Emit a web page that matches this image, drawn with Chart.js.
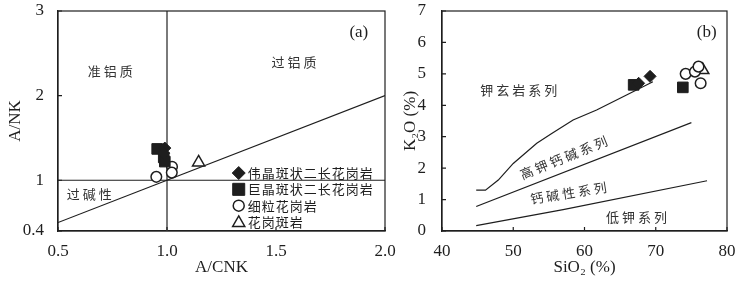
<!DOCTYPE html>
<html><head><meta charset="utf-8">
<script src="https://cdn.jsdelivr.net/npm/chart.js@4/dist/chart.umd.min.js"></script>
<style>
html,body{margin:0;padding:0;background:#fff;width:750px;height:281px;overflow:hidden}
#ca{position:absolute;left:0;top:0}
#cb{position:absolute;left:380px;top:0}
</style></head><body>
<canvas id="ca" width="400" height="281"></canvas>
<canvas id="cb" width="370" height="281"></canvas>
<script>
// ---------- data ----------
const seriesNames = ['伟晶斑状二长花岗岩','巨晶斑状二长花岗岩','细粒花岗岩','花岗斑岩'];

// panel (a): A/CNK vs A/NK
const aXTicks = [0.5, 1.0, 1.5, 2.0];
const aYTicks = [0.4, 1, 2, 3];
const aDiamond = [{x:0.99,y:1.38},{x:0.985,y:1.32}];
const aSquare = [{x:0.955,y:1.37},{x:0.985,y:1.27},{x:0.99,y:1.22}];
const aCircle = [{x:0.951,y:1.04},{x:1.023,y:1.16},{x:1.022,y:1.09}];
const aTriangle = [{x:1.145,y:1.21}];
const aLineV = [{x:1.0,y:0.4},{x:1.0,y:3}];
const aLineH = [{x:0.5,y:1},{x:2.0,y:1}];
const aLineD = [{x:0.5,y:0.5},{x:2.0,y:2.0}];
const aLabels = [
  {text:'准铝质', x:0.747, y:2.294},
  {text:'过铝质', x:1.59, y:2.40},
  {text:'过碱性', x:0.65, y:0.835},
  {text:'(a)', x:1.88, y:2.74, serif:true}
];

// panel (b): SiO2 vs K2O
const bXTicks = [40, 50, 60, 70, 80];
const bYTicks = [0, 1, 2, 3, 4, 5, 6, 7];
const bDiamond = [{x:67.6,y:4.70},{x:69.2,y:4.92}];
const bSquare = [{x:66.9,y:4.65},{x:73.8,y:4.57}];
const bCircle = [{x:74.2,y:5.0},{x:75.5,y:5.07},{x:76.0,y:5.23},{x:76.3,y:4.70}];
const bTriangle = [{x:76.6,y:5.12}];
const bLineShoshonite = [{x:44.8,y:1.30},{x:46.1,y:1.30},{x:47.9,y:1.62},{x:50.0,y:2.15},{x:53.3,y:2.79},{x:55.4,y:3.10},{x:58.4,y:3.53},{x:61.7,y:3.85},{x:65.9,y:4.33},{x:69.6,y:4.75}];
const bLineHighK = [{x:44.8,y:0.78},{x:75.0,y:3.45}];
const bLineLowK = [{x:44.8,y:0.17},{x:57.0,y:0.68},{x:77.2,y:1.60}];
const bLabels = [
  {text:'钾玄岩系列', x:50.97, y:4.49},
  {text:'高钾钙碱系列', x:57.27, y:2.35, rot:-22},
  {text:'钙碱性系列', x:57.97, y:1.21, rot:-9},
  {text:'低钾系列', x:67.5, y:0.445},
  {text:'(b)', x:77.15, y:6.33, serif:true}
];

// ---------- styles ----------
const INK = '#1e1e1e';
const SERIF = "'Liberation Serif','DejaVu Serif',serif";
const CJK = "'Noto Sans CJK SC','Noto Sans',sans-serif";
const markerStyles = [
  {pointStyle:'rectRot', radius:6, fill:INK, stroke:INK, bw:1},
  {pointStyle:'rect', radius:7.5, fill:INK, stroke:INK, bw:1},
  {pointStyle:'circle', radius:5.3, fill:'#fff', stroke:INK, bw:1.5},
  {pointStyle:'triangle', radius:7, fill:'#fff', stroke:INK, bw:1.5}
];

function scatterSet(data, i){
  const m = markerStyles[i];
  return {label:seriesNames[i], data, showLine:false, pointStyle:m.pointStyle,
    pointRadius:m.radius, pointHoverRadius:m.radius, backgroundColor:m.fill,
    borderColor:m.stroke, pointBorderWidth:m.bw, borderWidth:m.bw};
}
function lineSet(data, color, w){
  return {label:'', data, showLine:true, pointRadius:0, pointHoverRadius:0,
    borderColor:color, borderWidth:w, fill:false, tension:0};
}

function drawMarker(ctx, st, x, y, r){
  ctx.save();
  ctx.fillStyle = st.fill; ctx.strokeStyle = st.stroke; ctx.lineWidth = st.bw;
  ctx.beginPath();
  if (st.pointStyle==='rectRot'){ ctx.moveTo(x-r,y); ctx.lineTo(x,y-r); ctx.lineTo(x+r,y); ctx.lineTo(x,y+r); ctx.closePath(); }
  else if (st.pointStyle==='rect'){ const s=r*Math.SQRT1_2; ctx.rect(x-s,y-s,2*s,2*s); }
  else if (st.pointStyle==='circle'){ ctx.arc(x,y,r,0,Math.PI*2); }
  else { for(let k=0;k<3;k++){ const a=-Math.PI/2+k*2*Math.PI/3; const px=x+r*Math.cos(a), py=y+r*Math.sin(a); k?ctx.lineTo(px,py):ctx.moveTo(px,py);} ctx.closePath(); }
  ctx.fill(); ctx.stroke();
  ctx.restore();
}

const decor = {
  id:'decor',
  afterDatasetsDraw(chart, args, opts){
    const {ctx, chartArea:a, scales:{x, y}} = chart;
    ctx.save();
    ctx.strokeStyle = INK; ctx.lineWidth = 1.2;
    ctx.strokeRect(a.left, a.top, a.right-a.left, a.bottom-a.top);
    ctx.beginPath();
    x.ticks.forEach(t=>{const px=x.getPixelForValue(t.value); ctx.moveTo(px,a.bottom); ctx.lineTo(px,a.bottom-4);});
    y.ticks.forEach(t=>{const py=y.getPixelForValue(t.value); ctx.moveTo(a.left,py); ctx.lineTo(a.left+4,py);});
    ctx.stroke();
    // region labels
    (opts.labels||[]).forEach(l=>{
      const px = x.getPixelForValue(l.x), py = y.getPixelForValue(l.y);
      ctx.save();
      ctx.translate(px, py);
      if (l.rot) ctx.rotate(l.rot*Math.PI/180);
      ctx.textAlign='center'; ctx.textBaseline='middle';
      if (l.serif){ ctx.font = '17px '+SERIF; ctx.fillStyle = INK; ctx.letterSpacing='0px'; }
      else { ctx.font = '13px '+CJK; ctx.fillStyle = '#333'; ctx.letterSpacing='3px'; }
      ctx.fillText(l.text, 0, 0);
      ctx.restore();
    });
    // legend
    if (opts.legend){
      const lx = x.getPixelForValue(opts.legend.x), ly = y.getPixelForValue(opts.legend.y);
      ctx.font = '13px '+CJK; ctx.fillStyle = INK; ctx.textAlign='left'; ctx.textBaseline='middle';
      ctx.letterSpacing = '1px';
      const sizes = [6.5, 8.5, 5.5, 7];
      seriesNames.forEach((n,i)=>{
        const yy = ly + i*16.3;
        drawMarker(ctx, markerStyles[i], lx, yy + (i===3?1:0), sizes[i]);
        ctx.fillText(n, lx+9, yy);
      });
    }
    ctx.restore();
  }
};

function axisCommon(ticksArr, fmt, padding){
  return {
    type:'linear',
    afterBuildTicks: s => { s.ticks = ticksArr.map(v=>({value:v})); },
    ticks:{callback: fmt, font:{family:SERIF, size:17}, color:INK, padding, maxRotation:0, autoSkip:false},
    grid:{display:false},
    border:{display:true, color:INK, width:1.2}
  };
}

function makeChart(id, datasets, cfg){
  const xs = Object.assign(axisCommon(cfg.xTicks, cfg.xFmt, 2), {
    min:cfg.xTicks[0], max:cfg.xTicks[cfg.xTicks.length-1],
    title:{display:true, text:cfg.xTitle, font:{family:SERIF, size:17}, color:INK, padding:{top:0,bottom:0}},
    afterFit: s => { s.height = 47; s.paddingLeft = 0; s.paddingRight = 0; }
  });
  const ys = Object.assign(axisCommon(cfg.yTicks, cfg.yFmt, cfg.yPad), {
    min:cfg.yTicks[0], max:cfg.yTicks[cfg.yTicks.length-1],
    title:{display:true, text:cfg.yTitle, font:{family:SERIF, size:17}, color:INK, padding:{top:cfg.yTitlePad,bottom:0}},
    afterFit: s => { s.width = cfg.yWidth; s.paddingTop = 0; s.paddingBottom = 0; }
  });
  return new Chart(document.getElementById(id), {
    type:'scatter',
    data:{datasets},
    options:{
      responsive:false, animation:false, devicePixelRatio:1,
      layout:{padding:{left:0, top:11, right:cfg.rightPad, bottom:3}},
      plugins:{legend:{display:false}, tooltip:{enabled:false}, decor:{labels:cfg.labels, legend:cfg.legend}},
      scales:{x:xs, y:ys}
    },
    plugins:[decor]
  });
}

makeChart('ca', [
  scatterSet(aDiamond,0), scatterSet(aSquare,1), scatterSet(aCircle,2), scatterSet(aTriangle,3),
  lineSet(aLineH, INK, 1.2), lineSet(aLineD, INK, 1.2), lineSet(aLineV, '#7a7a7a', 2)
], {
  xTicks:aXTicks, yTicks:aYTicks, xFmt:v=>Number(v).toFixed(1), yFmt:v=>String(v),
  xTitle:'A/CNK', yTitle:'A/NK', yWidth:58, yPad:6, yTitlePad:5, rightPad:15,
  labels:aLabels, legend:{x:1.329, y:1.085}
});

makeChart('cb', [
  scatterSet(bDiamond,0), scatterSet(bSquare,1), scatterSet(bCircle,2), scatterSet(bTriangle,3),
  lineSet(bLineShoshonite, INK, 1.2), lineSet(bLineHighK, INK, 1.2), lineSet(bLineLowK, INK, 1.2)
], {
  xTicks:bXTicks, yTicks:bYTicks, xFmt:v=>String(v), yFmt:v=>String(v),
  xTitle:'SiO₂ (%)', yTitle:'K₂O (%)', yWidth:62, yPad:8, yTitlePad:20, rightPad:23,
  labels:bLabels, legend:null
});
</script>
</body></html>
